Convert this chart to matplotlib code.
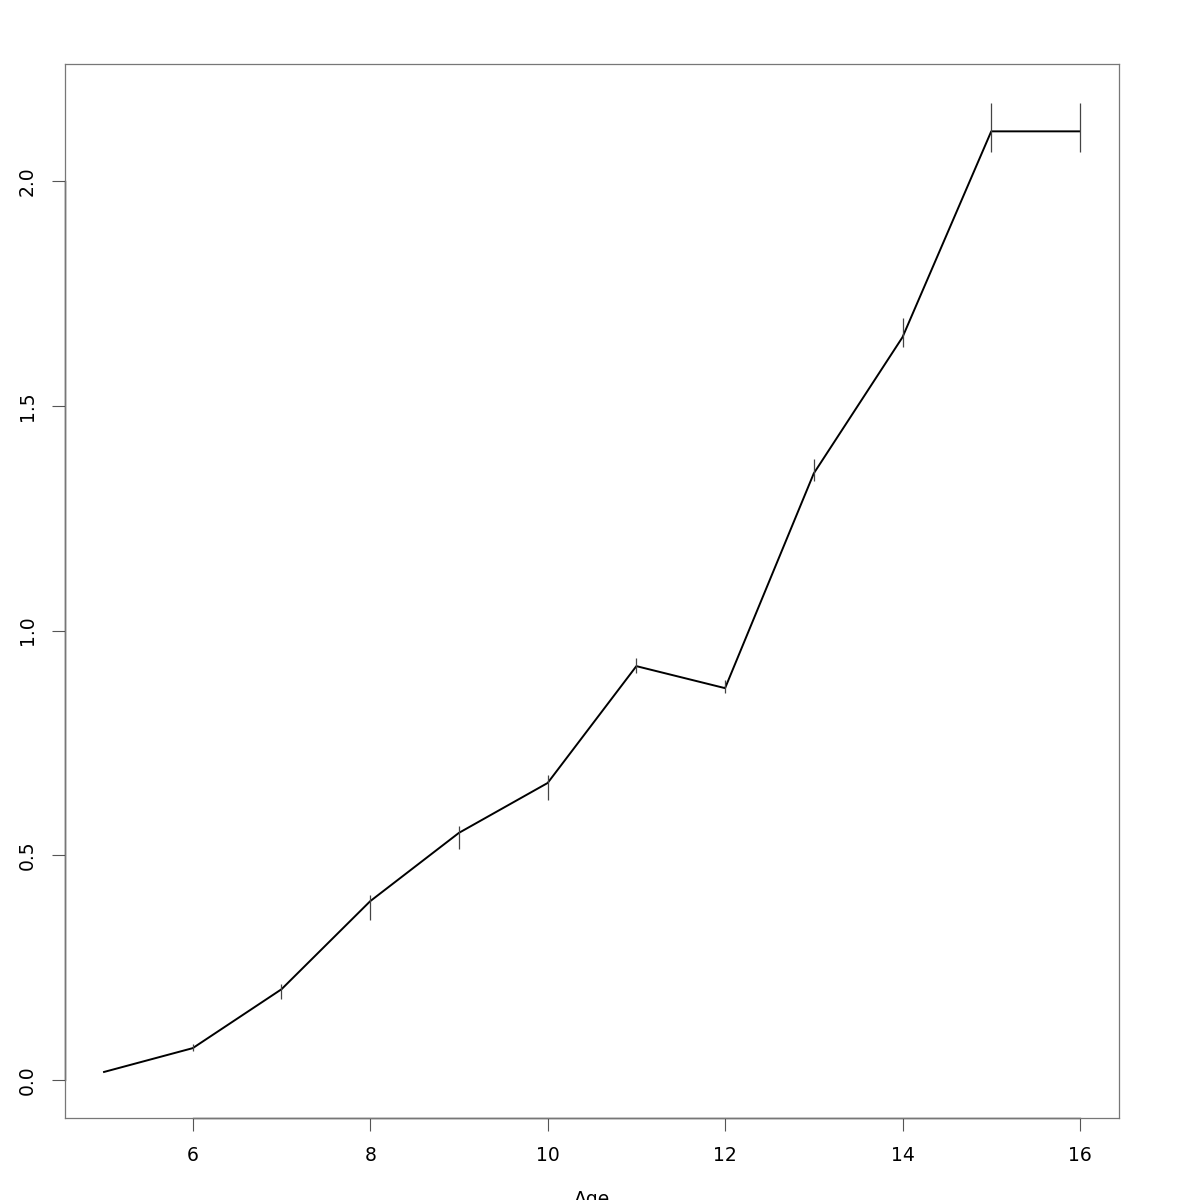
import matplotlib
matplotlib.use("Agg")
import matplotlib.pyplot as plt
import numpy as np

# data
age = [5, 6, 7, 8, 9, 10, 11, 12, 13, 14, 15, 16]
mean = [0.018, 0.071, 0.202, 0.398, 0.550, 0.661, 0.921, 0.872, 1.350, 1.653, 2.111, 2.111]
lower = [0.018, 0.065, 0.180, 0.356, 0.514, 0.623, 0.905, 0.861, 1.333, 1.631, 2.064, 2.064]
upper = [0.018, 0.080, 0.214, 0.412, 0.565, 0.679, 0.939, 0.890, 1.382, 1.695, 2.174, 2.174]
xticks = [6, 8, 10, 12, 14, 16]
yticks = [0.0, 0.5, 1.0, 1.5, 2.0]

fig = plt.figure(figsize=(12, 12), dpi=100)
ax = fig.add_axes([65 / 1200, 82 / 1200, 1054 / 1200, 1054 / 1200])

ax.plot(age, mean, color='black', lw=1.4)
ax.vlines(age, lower, upper, color='#444444', lw=0.9)

# R-style 4% padding
xr = max(age) - min(age)
ax.set_xlim(min(age) - 0.04 * xr, max(age) + 0.04 * xr)
ylo, yhi = 0.0024, 2.174
yr = yhi - ylo
ax.set_ylim(ylo - 0.04 * yr, yhi + 0.04 * yr)

for s in ax.spines.values():
    s.set_color('#777777')
    s.set_linewidth(0.9)

# axis lines spanning first..last tick, like base R
ax.plot([xticks[0], xticks[-1]], [ax.get_ylim()[0]] * 2, color='#222222', lw=1.0, clip_on=False)
ax.plot([ax.get_xlim()[0]] * 2, [yticks[0], yticks[-1]], color='#222222', lw=1.0, clip_on=False)

ax.set_xticks(xticks)
ax.set_xticklabels([str(t) for t in xticks])
ax.set_yticks(yticks)
ax.set_yticklabels(['%.1f' % t for t in yticks], rotation=90, va='center')
ax.tick_params(length=9.5, width=0.8, color='#555555', labelsize=13.5, pad=11)

ax.set_xlabel('Age', fontsize=13.5, labelpad=18)

fig.savefig('out.png', dpi=100)
